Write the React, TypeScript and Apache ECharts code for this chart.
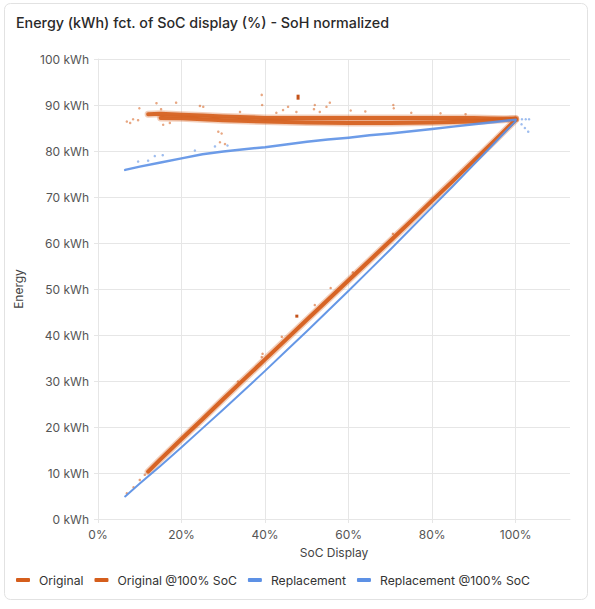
import React, { useEffect, useRef } from "react";
import * as echarts from "echarts";

const ORANGE = "#D55E1C";
const BLUE = "#5D91E5";
const FONT = "Inter, 'Noto Sans', sans-serif";

const titleText = "Energy (kWh) fct. of SoC display (%) - SoH normalized";
const seriesNames = ["Original", "Original @100% SoC", "Replacement", "Replacement @100% SoC"];
const xTicks = [0, 20, 40, 60, 80, 100];

// Original: energy vs SoC (dense diagonal)
const originalSoc = [12, 15, 20, 25, 30, 35, 40, 45, 50, 55, 60, 65, 70, 75, 80, 85, 90, 95, 100];
const originalEnergy = [10.3, 13.0, 17.4, 21.7, 26.1, 30.4, 34.7, 39.0, 43.3, 47.6, 51.9, 56.2, 60.5, 64.8, 69.2, 73.5, 77.9, 82.3, 86.8];
// Original: sparse points
const originalSparseSoc = [6.9, 8.5, 10.0, 11.2, 39.2, 39.4, 51.9, 55.7, 61.0, 70.6, 33.5, 44.0];
const originalSparseEnergy = [5.6, 6.9, 8.5, 9.6, 35.2, 35.9, 46.5, 50.2, 53.6, 62.0, 29.9, 39.6];
// Original: denser blobs
const originalBlobSoc = [47.6];
const originalBlobEnergy = [44.1];

// Original @100% SoC: upper and lower strands of the band
const bandUpperSoc = [12, 15, 20, 25, 30, 40, 50, 60, 70, 80, 90, 97, 100];
const bandUpperEnergy = [88.0, 88.1, 87.9, 87.7, 87.5, 87.2, 87.2, 87.2, 87.2, 87.2, 87.2, 87.0, 87.0];
const bandLowerSoc = [15, 20, 25, 30, 40, 50, 60, 70, 80, 90, 97, 100];
const bandLowerEnergy = [87.2, 87.1, 86.9, 86.7, 86.4, 86.2, 86.1, 86.1, 86.2, 86.4, 86.8, 87.0];
// Original @100% SoC: sparse points
const bandSparseSoc = [6.9, 7.7, 8.4, 9.6, 9.9, 14.0, 15.1, 15.6, 17.2, 18.7, 24.4, 25.2, 28.8, 29.6, 29.2, 30.4, 34.0, 39.2, 39.3, 42.7, 44.3, 45.5, 47.5, 51.9, 51.7, 53.1, 54.7, 55.5, 70.7, 70.8, 64.0, 60.5, 75.0, 82.0, 88.0];
const bandSparseEnergy = [86.4, 86.1, 86.9, 86.7, 89.3, 90.4, 89.1, 85.7, 86.1, 90.5, 89.8, 89.6, 84.2, 83.8, 81.9, 81.5, 88.5, 92.2, 90.0, 88.3, 88.9, 89.6, 88.5, 90.0, 89.1, 88.5, 89.6, 90.5, 90.0, 89.3, 88.6, 88.8, 88.3, 88.2, 88.0];
const bandBlobSoc = [47.9];
const bandBlobEnergy = [91.7];

// Replacement: energy vs SoC
const replacementSoc = [6.5, 10, 15, 20, 25, 30, 35, 40, 45, 50, 55, 60, 65, 70, 75, 80, 85, 90, 95, 100];
const replacementEnergy = [4.9, 7.7, 11.6, 15.6, 19.7, 23.8, 28.0, 32.2, 36.5, 40.8, 45.2, 49.6, 54.1, 58.6, 63.2, 67.8, 72.4, 77.1, 81.8, 86.5];

// Replacement @100% SoC
const replBandSoc = [6.5, 10, 15, 20, 25, 30, 35, 40, 45, 50, 55, 60, 65, 70, 75, 80, 85, 90, 95, 100];
const replBandEnergy = [75.9, 76.6, 77.5, 78.4, 79.3, 79.9, 80.4, 80.8, 81.4, 82.0, 82.5, 82.9, 83.4, 83.8, 84.3, 84.8, 85.3, 85.8, 86.3, 86.8];
const replSparseSoc = [9.6, 12.0, 13.6, 15.5, 23.2, 28.0, 31.0, 101.5, 102.4, 103.2, 101.4, 102.2, 103.0];
const replSparseEnergy = [77.7, 77.9, 78.9, 79.1, 80.1, 81.0, 81.2, 86.9, 86.9, 86.9, 85.8, 85.0, 84.2];

const pairs = (xs: number[], ys: number[]) => xs.map((x, i) => [x, ys[i]]);

export default function App() {
  const ref = useRef<HTMLDivElement>(null);
  useEffect(() => {
    document.body.style.margin = "0";
    const chart = echarts.init(ref.current as HTMLDivElement, null, { renderer: "svg" });
    const gridColor = "#e6e6e6";
    const lineSeries = (name: string, data: number[][], color: string, width: number, opacity: number) => ({
      type: "line",
      name,
      data,
      symbol: "none",
      showSymbol: false,
      smooth: false,
      itemStyle: { color },
      lineStyle: { color, width, opacity, cap: "round", join: "round" },
      emphasis: { disabled: true },
    });
    const scatterSeries = (name: string, data: number[][], color: string, size: any, opacity: number, symbol = "circle") => ({
      type: "scatter",
      name,
      data,
      symbol,
      symbolSize: size,
      itemStyle: { color, opacity },
      emphasis: { disabled: true },
    });
    chart.setOption({
      animation: false,
      textStyle: { fontFamily: FONT },
      title: {
        text: titleText,
        left: 16,
        top: 15,
        padding: 0,
        textStyle: { fontFamily: FONT, fontSize: 14.3, fontWeight: 500, color: "#2a2a2a" },
      },
      legend: {
        left: 16,
        top: 574,
        padding: 0,
        itemWidth: 14,
        itemHeight: 4,
        itemGap: 11,
        textStyle: { fontFamily: FONT, fontSize: 12.2, color: "#333", padding: [0, 0, 0, 4] },
        data: [
          { name: seriesNames[0], icon: "roundRect", itemStyle: { color: ORANGE } },
          { name: seriesNames[1], icon: "roundRect", itemStyle: { color: ORANGE } },
          { name: seriesNames[2], icon: "roundRect", itemStyle: { color: BLUE } },
          { name: seriesNames[3], icon: "roundRect", itemStyle: { color: BLUE } },
        ],
      },
      grid: { left: 98, right: 25, top: 59, bottom: 90, containLabel: false, outerBoundsMode: "none" },
      xAxis: {
        type: "value",
        min: 0,
        max: 113,
        interval: 20,
        name: "SoC Display",
        nameLocation: "middle",
        nameGap: 27,
        nameTextStyle: { fontFamily: FONT, fontSize: 12, color: "#444" },
        axisLine: { show: true, lineStyle: { color: gridColor } },
        axisTick: { show: true, length: 4, lineStyle: { color: gridColor } },
        axisLabel: {
          fontFamily: FONT,
          fontSize: 12,
          color: "#555",
          margin: 9,
          showMaxLabel: false,
          formatter: (v: number) => (xTicks.indexOf(v) >= 0 ? v + "%" : ""),
        },
        splitLine: { show: true, showMaxLine: false, lineStyle: { color: gridColor } },
      },
      yAxis: {
        type: "value",
        min: 0,
        max: 100,
        interval: 10,
        name: "Energy",
        nameLocation: "middle",
        nameGap: 74,
        nameRotate: 90,
        nameTextStyle: { fontFamily: FONT, fontSize: 12, color: "#444" },
        axisLine: { show: true, lineStyle: { color: gridColor } },
        axisTick: { show: true, length: 4, lineStyle: { color: gridColor } },
        axisLabel: { fontFamily: FONT, fontSize: 12, color: "#555", margin: 9, formatter: "{value} kWh" },
        splitLine: { show: true, lineStyle: { color: gridColor } },
      },
      graphic: [
        {
          type: "rect",
          silent: true,
          shape: { x: 4.5, y: 3.5, width: 583, height: 596, r: 6 },
          style: { fill: "none", stroke: "#e2e2e2", lineWidth: 1 },
        },
      ],
      series: [
        lineSeries(seriesNames[0], pairs(originalSoc, originalEnergy), ORANGE, 7, 0.3),
        lineSeries(seriesNames[0], pairs(originalSoc, originalEnergy), ORANGE, 4, 0.95),
        scatterSeries(seriesNames[0], pairs(originalSparseSoc, originalSparseEnergy), ORANGE, 2.5, 0.6),
        scatterSeries(seriesNames[0], pairs(originalBlobSoc, originalBlobEnergy), "#c4521a", [3, 3], 1, "rect"),
        lineSeries(seriesNames[1], pairs(bandUpperSoc, bandUpperEnergy), ORANGE, 7, 0.3),
        lineSeries(seriesNames[1], pairs(bandLowerSoc, bandLowerEnergy), ORANGE, 7, 0.3),
        lineSeries(seriesNames[1], pairs(bandUpperSoc, bandUpperEnergy), ORANGE, 4, 0.9),
        lineSeries(seriesNames[1], pairs(bandLowerSoc, bandLowerEnergy), ORANGE, 4, 0.9),
        scatterSeries(seriesNames[1], pairs(bandSparseSoc, bandSparseEnergy), ORANGE, 2.5, 0.55),
        scatterSeries(seriesNames[1], pairs(bandBlobSoc, bandBlobEnergy), "#c4521a", [3, 5], 1, "rect"),
        lineSeries(seriesNames[2], pairs(replacementSoc, replacementEnergy), BLUE, 2, 0.95),
        lineSeries(seriesNames[3], pairs(replBandSoc, replBandEnergy), BLUE, 2.5, 0.9),
        scatterSeries(seriesNames[3], pairs(replSparseSoc, replSparseEnergy), BLUE, 2.5, 0.6),
      ],
    });
    return () => chart.dispose();
  }, []);
  return <div ref={ref} style={{ width: 595, height: 609 }} />;
}
